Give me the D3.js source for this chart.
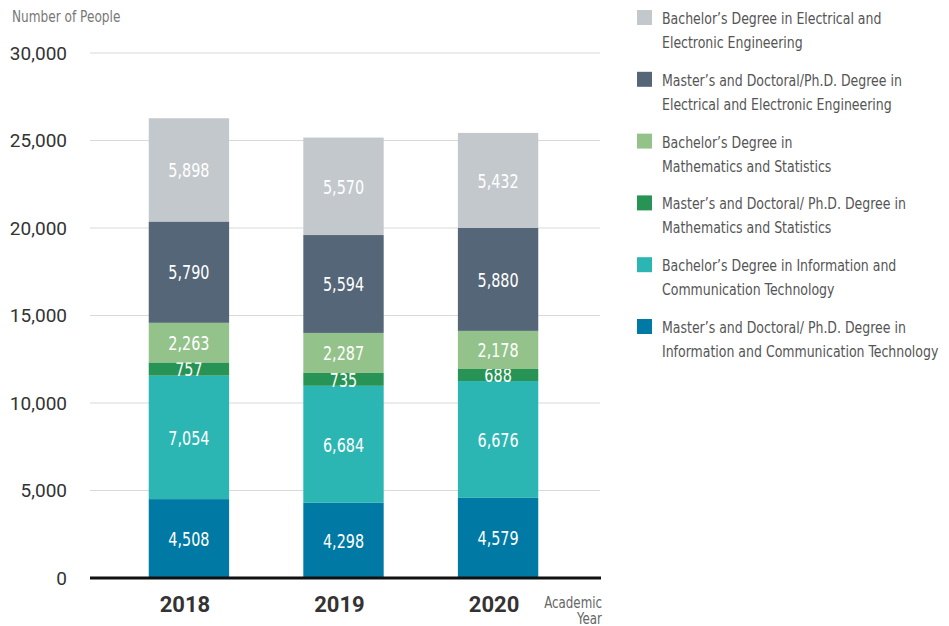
<!DOCTYPE html>
<html>
<head>
  <meta charset="utf-8">
  <style>
    body { margin: 0; background: #fff; }
    svg { display: block; }
  </style>
</head>
<body>
  <svg id="chart"></svg>
  <script src="https://cdn.jsdelivr.net/npm/d3@7"></script>
  <script>
    var years = ["2018", "2019", "2020"];
    var seriesNames = [
      "Master’s and Doctoral/ Ph.D. Degree in Information and Communication Technology",
      "Bachelor’s Degree in Information and Communication Technology",
      "Master’s and Doctoral/ Ph.D. Degree in Mathematics and Statistics",
      "Bachelor’s Degree in Mathematics and Statistics",
      "Master’s and Doctoral/Ph.D. Degree in Electrical and Electronic Engineering",
      "Bachelor’s Degree in Electrical and Electronic Engineering"
    ];
    // legend text broken into two lines, same order as seriesNames
    var legendLines = [
      ["Master’s and Doctoral/ Ph.D. Degree in", "Information and Communication Technology"],
      ["Bachelor’s Degree in Information and", "Communication Technology"],
      ["Master’s and Doctoral/ Ph.D. Degree in", "Mathematics and Statistics"],
      ["Bachelor’s Degree in", "Mathematics and Statistics"],
      ["Master’s and Doctoral/Ph.D. Degree in", "Electrical and Electronic Engineering"],
      ["Bachelor’s Degree in Electrical and", "Electronic Engineering"]
    ];
    var ictMaster = [4508, 4298, 4579];
    var ictBachelor = [7054, 6684, 6676];
    var mathMaster = [757, 735, 688];
    var mathBachelor = [2263, 2287, 2178];
    var eeMaster = [5790, 5594, 5880];
    var eeBachelor = [5898, 5570, 5432];
    var colors = ["#0079a4", "#2bb6b4", "#279455", "#93c38b", "#546677", "#c3c8cc"];
    var yTicks = [0, 5000, 10000, 15000, 20000, 25000, 30000];

    var seriesValues = [ictMaster, ictBachelor, mathMaster, mathBachelor, eeMaster, eeBachelor];
    var tableData = years.map(function (y, i) {
      var row = { year: y };
      seriesNames.forEach(function (s, k) { row[s] = seriesValues[k][i]; });
      return row;
    });

    var width = 949, height = 626;
    var condFont = "'DejaVu Sans Condensed', 'DejaVu Sans', sans-serif";
    var svg = d3.select("#chart").attr("width", width).attr("height", height);

    var x = d3.scaleBand()
      .domain(years)
      .range([90, 597])
      .paddingInner(0.48)
      .paddingOuter(0.38);
    var y = d3.scaleLinear()
      .domain([0, 30000])
      .range([578, 53]);

    // gridlines
    svg.append("g")
      .selectAll("line")
      .data(yTicks.filter(function (d) { return d > 0; }))
      .join("line")
      .attr("x1", 90).attr("x2", 600)
      .attr("y1", function (d) { return y(d); })
      .attr("y2", function (d) { return y(d); })
      .attr("stroke", "#d9d9d9")
      .attr("stroke-width", 1);

    // y tick labels
    var fmt = d3.format(",");
    svg.append("g")
      .selectAll("text")
      .data(yTicks)
      .join("text")
      .attr("x", 67)
      .attr("y", function (d) { return y(d); })
      .attr("dy", "0.35em")
      .attr("text-anchor", "end")
      .attr("font-family", "Roboto, 'Liberation Sans', sans-serif")
      .attr("font-size", 19)
      .attr("fill", "#333")
      .text(function (d) { return fmt(d); });

    svg.append("g")
      .attr("transform", "translate(12,22) scale(0.9,1)")
      .append("text")
      .attr("font-family", condFont)
      .attr("font-size", 15)
      .attr("fill", "#777")
      .text("Number of People");

    // stacked bars
    var stack = d3.stack().keys(seriesNames);
    var layers = stack(tableData);
    var groups = svg.append("g")
      .selectAll("g")
      .data(layers)
      .join("g")
      .attr("fill", function (d, i) { return colors[i]; });
    groups.selectAll("rect")
      .data(function (d) { return d; })
      .join("rect")
      .attr("x", function (d) { return x(d.data.year); })
      .attr("y", function (d) { return y(d[1]); })
      .attr("width", x.bandwidth())
      .attr("height", function (d) { return y(d[0]) - y(d[1]); });

    // value labels (squeezed to look condensed)
    groups.selectAll("g")
      .data(function (d) { return d; })
      .join("g")
      .attr("transform", function (d) {
        var cx = x(d.data.year) + x.bandwidth() / 2;
        var cy = (y(d[0]) + y(d[1])) / 2;
        return "translate(" + cx + "," + cy + ") scale(0.8,1)";
      })
      .append("text")
      .attr("dy", "0.36em")
      .attr("text-anchor", "middle")
      .attr("font-family", condFont)
      .attr("font-size", 20)
      .attr("fill", "#fff")
      .text(function (d) { return fmt(d[1] - d[0]); });

    // baseline
    svg.append("line")
      .attr("x1", 90).attr("x2", 601)
      .attr("y1", y(0)).attr("y2", y(0))
      .attr("stroke", "#111")
      .attr("stroke-width", 3);

    // x labels
    svg.append("g")
      .selectAll("text")
      .data(years)
      .join("text")
      .attr("x", function (d) { return x(d) + x.bandwidth() / 2 - 4; })
      .attr("y", 612)
      .attr("text-anchor", "middle")
      .attr("font-family", "Roboto, 'Liberation Sans', sans-serif")
      .attr("font-weight", "bold")
      .attr("font-size", 22)
      .attr("fill", "#333")
      .text(function (d) { return d; });

    var axisTitle = svg.append("g")
      .attr("transform", "translate(602,0) scale(0.88,1)")
      .append("text")
      .attr("text-anchor", "end")
      .attr("font-family", condFont)
      .attr("font-size", 15)
      .attr("fill", "#666");
    axisTitle.append("tspan").attr("x", 0).attr("y", 608).text("Academic");
    axisTitle.append("tspan").attr("x", 0).attr("y", 624).text("Year");

    // legend, top item is last series
    var legendOrder = d3.range(seriesNames.length).reverse();
    var legend = svg.append("g")
      .selectAll("g")
      .data(legendOrder)
      .join("g")
      .attr("transform", function (d, i) { return "translate(637," + (10 + i * 61.8) + ")"; });
    legend.append("rect")
      .attr("width", 15).attr("height", 15)
      .attr("fill", function (d) { return colors[d]; });
    var legendText = legend.append("g")
      .attr("transform", "translate(25,0) scale(0.87,1)")
      .append("text")
      .attr("font-family", condFont)
      .attr("font-size", 16)
      .attr("fill", "#555");
    legendText.selectAll("tspan")
      .data(function (d) { return legendLines[d]; })
      .join("tspan")
      .attr("x", 0)
      .attr("y", function (d, i) { return 14 + i * 24; })
      .text(function (d) { return d; });
  </script>
</body>
</html>
